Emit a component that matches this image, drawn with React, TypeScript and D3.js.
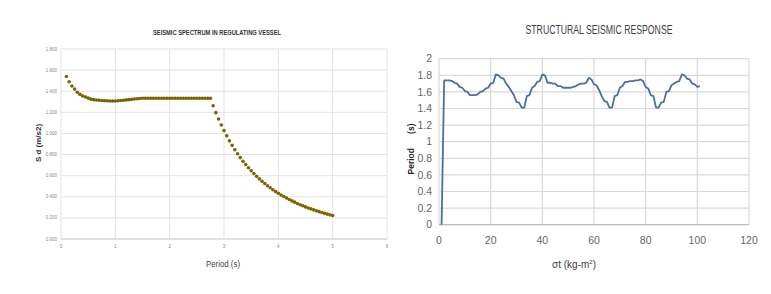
import React from "react";
import * as d3 from "d3";

// ---------- Left chart: seismic spectrum ----------
const spectrumPeriods: number[] = [
  0.1, 0.15, 0.2, 0.25, 0.3, 0.35, 0.4, 0.45, 0.5, 0.55, 0.6, 0.65, 0.7, 0.75, 0.8, 0.85, 0.9, 0.95, 1.0,
  1.05, 1.1, 1.15, 1.2, 1.25, 1.3, 1.35, 1.4, 1.45, 1.5, 1.55, 1.6, 1.65, 1.7, 1.75, 1.8, 1.85, 1.9, 1.95, 2.0,
  2.05, 2.1, 2.15, 2.2, 2.25, 2.3, 2.35, 2.4, 2.45, 2.5, 2.55, 2.6, 2.65, 2.7, 2.75,
  2.8, 2.85, 2.9, 2.95, 3.0, 3.05, 3.1, 3.15, 3.2, 3.25, 3.3, 3.35, 3.4, 3.45, 3.5, 3.55, 3.6, 3.65, 3.7, 3.75,
  3.8, 3.85, 3.9, 3.95, 4.0, 4.05, 4.1, 4.15, 4.2, 4.25, 4.3, 4.35, 4.4, 4.45, 4.5, 4.55, 4.6, 4.65, 4.7, 4.75,
  4.8, 4.85, 4.9, 4.95, 5.0,
];
const spectrumSd: number[] = [
  1.54, 1.49, 1.45, 1.42, 1.39, 1.37, 1.355, 1.345, 1.335, 1.325, 1.32, 1.317, 1.315, 1.312, 1.31, 1.31, 1.308, 1.308, 1.308,
  1.31, 1.312, 1.315, 1.318, 1.32, 1.323, 1.326, 1.329, 1.331, 1.333, 1.333, 1.333, 1.333, 1.333, 1.333, 1.333, 1.333, 1.333, 1.333, 1.333,
  1.333, 1.333, 1.333, 1.333, 1.333, 1.333, 1.333, 1.333, 1.333, 1.333, 1.333, 1.333, 1.333, 1.333, 1.333,
  1.263, 1.197, 1.137, 1.08, 1.027, 0.977, 0.93, 0.887, 0.846, 0.807, 0.771, 0.737, 0.705, 0.675, 0.647, 0.62, 0.594, 0.57, 0.547, 0.526,
  0.505, 0.486, 0.467, 0.45, 0.433, 0.417, 0.402, 0.388, 0.374, 0.361, 0.349, 0.337, 0.325, 0.315, 0.304, 0.294, 0.285, 0.276, 0.267, 0.259,
  0.251, 0.243, 0.236, 0.229, 0.222,
];
const leftXTicks: number[] = [0, 1, 2, 3, 4, 5, 6];
const leftYTicks: number[] = [0, 0.2, 0.4, 0.6, 0.8, 1.0, 1.2, 1.4, 1.6, 1.8];

// ---------- Right chart: structural seismic response ----------
const responseX: number[] = Array.from({ length: 101 }, (_, i) => i + 1);
const responseY: number[] = [
  0, 1.74, 1.74, 1.74, 1.73, 1.71, 1.7, 1.66, 1.65, 1.61,
  1.6, 1.56, 1.56, 1.56, 1.57, 1.6, 1.61, 1.64, 1.65, 1.7,
  1.71, 1.81, 1.8, 1.77, 1.76, 1.7, 1.66, 1.61, 1.56, 1.48,
  1.47, 1.41, 1.41, 1.55, 1.56, 1.65, 1.67, 1.72, 1.73, 1.81,
  1.8, 1.71, 1.71, 1.7, 1.7, 1.67, 1.67, 1.65, 1.65, 1.65,
  1.65, 1.66, 1.67, 1.69, 1.7, 1.7, 1.71, 1.77, 1.75, 1.69,
  1.68, 1.62, 1.55, 1.49, 1.48, 1.41, 1.41, 1.55, 1.56, 1.65,
  1.67, 1.72, 1.72, 1.73, 1.73, 1.74, 1.74, 1.75, 1.73, 1.66,
  1.64, 1.56, 1.55, 1.41, 1.41, 1.47, 1.48, 1.6, 1.61, 1.68,
  1.7, 1.72, 1.73, 1.81, 1.8, 1.76, 1.75, 1.7, 1.69, 1.66,
  1.67,
];
const rightXTicks: number[] = [0, 20, 40, 60, 80, 100, 120];
const rightYTicks: number[] = [0, 0.2, 0.4, 0.6, 0.8, 1, 1.2, 1.4, 1.6, 1.8, 2];

const narrow = "'Liberation Sans Narrow', 'Arial Narrow', 'Liberation Sans', Arial, sans-serif";
const sans = "'Liberation Sans', Arial, sans-serif";

export default function App() {
  // left scales
  const lx = d3.scaleLinear().domain([0, 6]).range([61, 387]);
  const ly = d3.scaleLinear().domain([0, 1.8]).range([239, 49]);
  // right scales
  const rx = d3.scaleLinear().domain([0, 120]).range([439, 749]);
  const ry = d3.scaleLinear().domain([0, 2]).range([224.7, 58.7]);

  const line = d3
    .line<number>()
    .x((_, i) => rx(responseX[i]))
    .y((d) => ry(d));

  const fmt3 = d3.format(".3f");

  return (
    <svg
      width={771}
      height={294}
      style={{ position: "absolute", left: 0, top: 0, background: "#fff" }}
    >
      <rect x={0} y={0} width={771} height={294} fill="#fff" />
      {/* ===== Left chart ===== */}
      <g>
        {leftYTicks.map((t) => (
          <line key={"lyg" + t} x1={lx(0)} x2={lx(6)} y1={ly(t)} y2={ly(t)} stroke="#e3e3e3" strokeWidth={1} />
        ))}
        {leftXTicks.map((t) => (
          <line key={"lxg" + t} x1={lx(t)} x2={lx(t)} y1={ly(0)} y2={ly(1.8)} stroke="#e3e3e3" strokeWidth={1} />
        ))}
        <line x1={lx(0)} x2={lx(6)} y1={ly(0)} y2={ly(0)} stroke="#d0d0d0" strokeWidth={1} />
        {leftYTicks.map((t) => (
          <text key={"lyt" + t} x={57} y={ly(t)} dy="0.35em" textAnchor="end" fontSize={4.5} fill="#8a8a8a" fontFamily={sans}>
            {fmt3(t)}
          </text>
        ))}
        {leftXTicks.map((t) => (
          <text key={"lxt" + t} x={lx(t)} y={248} textAnchor="middle" fontSize={4.5} fill="#8a8a8a" fontFamily={sans}>
            {t}
          </text>
        ))}
        {spectrumSd.map((v, i) => (
          <circle key={"dot" + i} cx={lx(spectrumPeriods[i])} cy={ly(v)} r={1.8} fill="#7d6200" />
        ))}
        <text x={217} y={34.5} textAnchor="middle" fontSize={8} fontWeight="bold" fill="#333" fontFamily={narrow} textLength={128} lengthAdjust="spacingAndGlyphs">
          SEISMIC SPECTRUM IN REGULATING VESSEL
        </text>
        <text x={223} y={267} textAnchor="middle" fontSize={8.5} fill="#404040" fontFamily={narrow} textLength={34} lengthAdjust="spacingAndGlyphs">
          Period (s)
        </text>
        <text transform="translate(40.5,143) rotate(-90)" textAnchor="middle" fontSize={8} fontWeight="bold" fill="#333" fontFamily={sans}>
          S d (m/s2)
        </text>
      </g>

      {/* ===== Right chart ===== */}
      <g>
        {rightYTicks.map((t) => (
          <line key={"ryg" + t} x1={rx(0)} x2={rx(120)} y1={ry(t)} y2={ry(t)} stroke="#d9d9d9" strokeWidth={1.2} />
        ))}
        {rightXTicks.map((t) => (
          <line key={"rxg" + t} x1={rx(t)} x2={rx(t)} y1={ry(0)} y2={ry(2)} stroke="#d9d9d9" strokeWidth={1.2} />
        ))}
        <line x1={rx(0)} x2={rx(120)} y1={ry(0)} y2={ry(0)} stroke="#bfbfbf" strokeWidth={1.2} />
        {rightYTicks.map((t) => (
          <text key={"ryt" + t} x={432} y={ry(t)} dy="0.35em" textAnchor="end" fontSize={10.5} fill="#666" fontFamily={narrow}>
            {t}
          </text>
        ))}
        {rightXTicks.map((t) => (
          <text key={"rxt" + t} x={rx(t)} y={244} textAnchor="middle" fontSize={10.5} fill="#666" fontFamily={narrow}>
            {t}
          </text>
        ))}
        <path d={line(responseY) || ""} fill="none" stroke="#4a6fa8" strokeWidth={1.8} strokeLinejoin="round" />
        <text x={599} y={34} textAnchor="middle" fontSize={12.5} fill="#404040" fontFamily={narrow} textLength={147} lengthAdjust="spacingAndGlyphs">
          STRUCTURAL SEISMIC RESPONSE
        </text>
        <text x={574} y={268} textAnchor="middle" fontSize={10} fill="#404040" fontFamily={narrow}>
          σt (kg-m<tspan dy={-4} fontSize={6}>2</tspan><tspan dy={4}>)</tspan>
        </text>
        <text transform="translate(413.5,149) rotate(-90)" textAnchor="middle" fontSize={8.5} fontWeight="bold" fill="#262626" fontFamily={sans} style={{ whiteSpace: "pre" }}>
          {"Period      (s)"}
        </text>
      </g>
    </svg>
  );
}
